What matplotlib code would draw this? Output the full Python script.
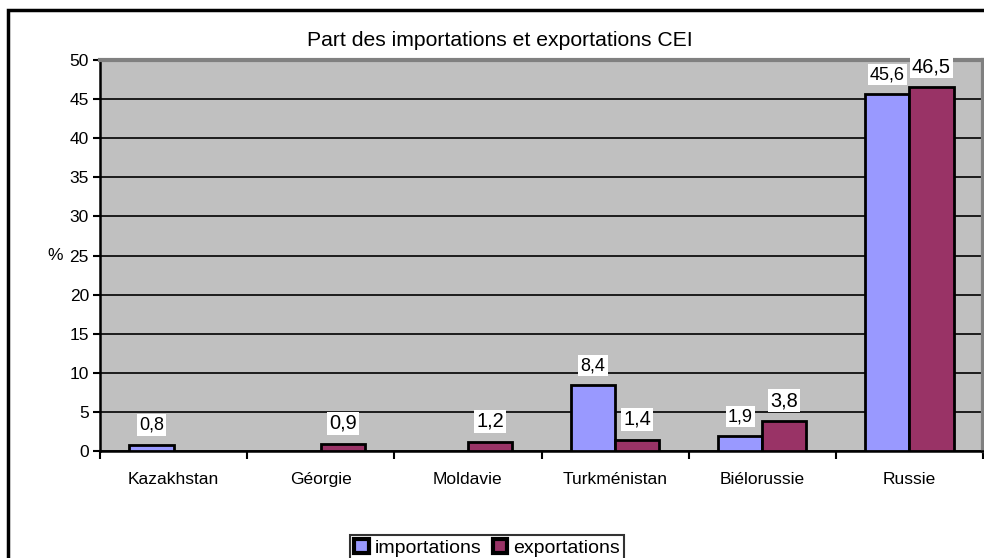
import numpy as np
import matplotlib
matplotlib.use('Agg')
import matplotlib.pyplot as plt
from matplotlib.patches import Rectangle

plt.rcParams['font.family'] = ['Liberation Sans', 'DejaVu Sans']

# Data
pays = ['Kazakhstan', 'Géorgie', 'Moldavie', 'Turkménistan', 'Biélorussie', 'Russie']
importations = [0.8, None, None, 8.4, 1.9, 45.6]
exportations = [None, 0.9, 1.2, 1.4, 3.8, 46.5]
y_ticks = list(range(0, 51, 5))

col_imp = '#9999FF'
col_exp = '#993366'

fig = plt.figure(figsize=(9.84, 5.58), dpi=100)
ax = fig.add_axes([100/984, 1-451/558, 883/984, 391/558])
ax.set_facecolor('#C0C0C0')

x = np.arange(len(pays))
w = 0.3

def vals(lst):
    return [v if v is not None else np.nan for v in lst]

b1 = ax.bar(x - w/2, vals(importations), w, color=col_imp, edgecolor='black', linewidth=2, zorder=3)
b2 = ax.bar(x + w/2, vals(exportations), w, color=col_exp, edgecolor='black', linewidth=2, zorder=3)

# data labels
for xi, v in zip(x, importations):
    if v is None:
        continue
    ax.annotate(f'{v:.1f}'.replace('.', ','), (xi - w/2, v), xytext=(0, 8), textcoords='offset points',
                ha='center', va='bottom', fontsize=13, zorder=5,
                bbox=dict(facecolor='white', edgecolor='none', pad=1.5))
for xi, v in zip(x, exportations):
    if v is None:
        continue
    ax.annotate(f'{v:.1f}'.replace('.', ','), (xi + w/2, v), xytext=(0, 8), textcoords='offset points',
                ha='center', va='bottom', fontsize=14.4, zorder=5,
                bbox=dict(facecolor='white', edgecolor='none', pad=1.5))

ax.set_ylim(0, 50)
ax.set_yticks(y_ticks)
ax.set_xlim(-0.5, len(pays) - 0.5)
ax.set_xticks(x)
ax.set_xticklabels(pays, fontsize=12.5)
ax.set_xticks(np.arange(-0.5, len(pays), 1.0), minor=True)
ax.tick_params(axis='x', which='major', length=0, pad=15)
ax.tick_params(axis='x', which='minor', length=6, width=1.5, direction='out')
ax.tick_params(axis='y', length=5, width=1.5, direction='out', labelsize=12.5, pad=3)
ax.yaxis.grid(True, color='black', linewidth=1.2, zorder=1)
ax.set_axisbelow(True)

for s in ['left', 'bottom']:
    ax.spines[s].set_linewidth(1.8)
    ax.spines[s].set_color('black')
for s in ['top', 'right']:
    ax.spines[s].set_linewidth(3)
    ax.spines[s].set_color('#808080')

fig.text(500/984, 1-40/558, 'Part des importations et exportations CEI', ha='center', va='center', fontsize=15.2)
fig.text(55/984, 1-255/558, '%', ha='center', va='center', fontsize=12.5)

# outer frame
fig.patches.append(Rectangle((8/984, -0.1), 1.2, 1.1 - 10/558, transform=fig.transFigure,
                             fill=False, edgecolor='black', linewidth=2.5, zorder=0))

leg = fig.legend(handles=[b1, b2], labels=['importations', 'exportations'], loc='upper center',
                 bbox_to_anchor=(487/984, 1-535/558), ncol=2, frameon=True, fontsize=14,
                 handlelength=0.75, handleheight=0.75, handletextpad=0.3, columnspacing=0.6,
                 borderpad=0.2, fancybox=False, edgecolor='black', borderaxespad=0)
leg.get_frame().set_linewidth(1.5)
for h in leg.legend_handles:
    h.set_linewidth(3)

fig.savefig('out.png', dpi=100, facecolor='white')
